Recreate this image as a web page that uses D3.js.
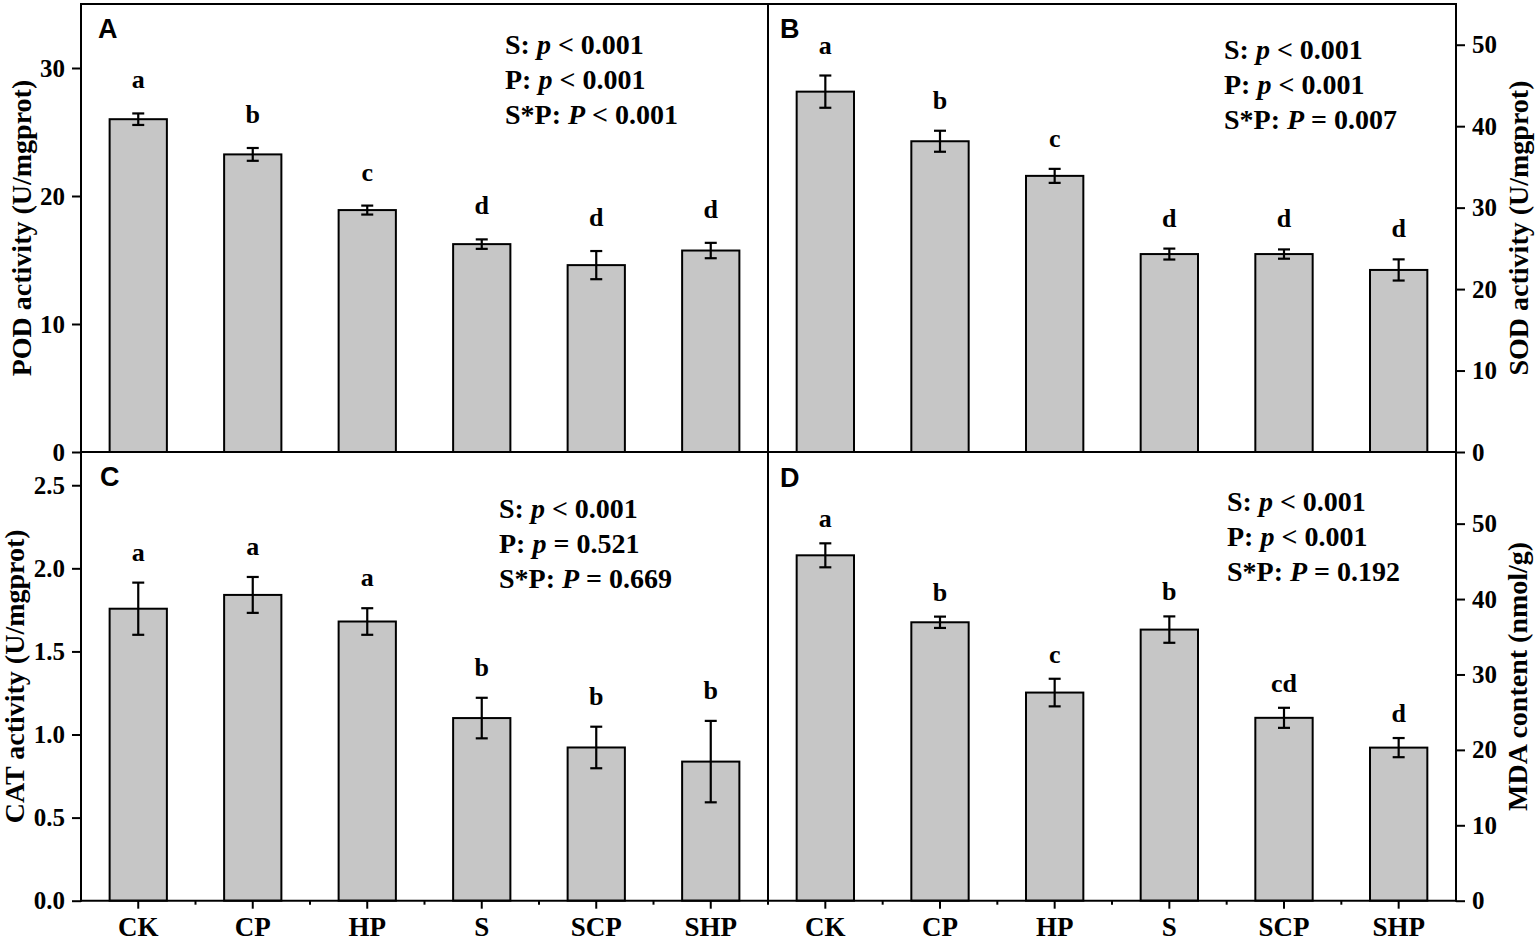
<!DOCTYPE html>
<html>
<head>
<meta charset="utf-8">
<script src="https://cdn.jsdelivr.net/npm/d3@7"></script>
<style>
  html, body { margin: 0; padding: 0; background: #fff; }
  svg { display: block; }
  text { font-family: "Liberation Serif", "Times New Roman", serif; font-weight: bold; fill: #000; }
  .panel-letter { font-family: "Liberation Sans", Arial, sans-serif; }
</style>
</head>
<body>
<svg id="chart" width="1535" height="941"></svg>
<script>
// ------------------------------------------
// Data
// ------------------------------------------

const categories = ["CK", "CP", "HP", "S", "SCP", "SHP"]

const podMean = [26.0, 23.25, 18.9, 16.24, 14.6, 15.74]
const podErr = [0.45, 0.5, 0.35, 0.37, 1.1, 0.6]
const podLetters = ["a", "b", "c", "d", "d", "d"]
const podTicks = [0, 10, 20, 30]
const podStats = [["S:", "p", "< 0.001"], ["P:", "p", "< 0.001"], ["S*P:", "P", "< 0.001"]]

const sodMean = [44.24, 38.15, 33.9, 24.3, 24.3, 22.35]
const sodErr = [1.98, 1.29, 0.86, 0.67, 0.57, 1.3]
const sodLetters = ["a", "b", "c", "d", "d", "d"]
const sodTicks = [0, 10, 20, 30, 40, 50]
const sodStats = [["S:", "p", "< 0.001"], ["P:", "p", "< 0.001"], ["S*P:", "P", "= 0.007"]]

const catMean = [1.757, 1.84, 1.68, 1.099, 0.922, 0.837]
const catErr = [0.157, 0.108, 0.08, 0.122, 0.125, 0.245]
const catLetters = ["a", "a", "a", "b", "b", "b"]
const catTicks = [0.0, 0.5, 1.0, 1.5, 2.0, 2.5]
const catStats = [["S:", "p", "< 0.001"], ["P:", "p", "= 0.521"], ["S*P:", "P", "= 0.669"]]

const mdaMean = [45.8, 36.92, 27.6, 35.95, 24.25, 20.3]
const mdaErr = [1.59, 0.75, 1.83, 1.75, 1.33, 1.27]
const mdaLetters = ["a", "b", "c", "b", "cd", "d"]
const mdaTicks = [0, 10, 20, 30, 40, 50]
const mdaStats = [["S:", "p", "< 0.001"], ["P:", "p", "< 0.001"], ["S*P:", "P", "= 0.192"]]

// ------------------------------------------
// Layout
// ------------------------------------------

const frame = { left: 81, mid: 768, right: 1456, top: 4, middle: 452, bottom: 900.7 }

const panels = [
  { id: "A", mean: podMean, err: podErr, letters: podLetters, ticks: podTicks, stats: podStats,
    max: 35, side: "left", row: 0, label: "POD activity (U/mgprot)", labelX: 31, fmt: d3.format("d"),
    letterPos: [98, 38], statsPos: [505, 54], sigGap: 25 },
  { id: "B", mean: sodMean, err: sodErr, letters: sodLetters, ticks: sodTicks, stats: sodStats,
    max: 55, side: "right", row: 0, label: "SOD activity (U/mgprot)", labelX: 1528, fmt: d3.format("d"),
    letterPos: [780, 38], statsPos: [1224, 59], sigGap: 22 },
  { id: "C", mean: catMean, err: catErr, letters: catLetters, ticks: catTicks, stats: catStats,
    max: 2.7, side: "left", row: 1, label: "CAT activity (U/mgprot)", labelX: 24, fmt: d3.format(".1f"),
    letterPos: [100, 486], statsPos: [499, 518], sigGap: 22 },
  { id: "D", mean: mdaMean, err: mdaErr, letters: mdaLetters, ticks: mdaTicks, stats: mdaStats,
    max: 59.5, side: "right", row: 1, label: "MDA content (nmol/g)", labelX: 1527, fmt: d3.format("d"),
    letterPos: [780, 487], statsPos: [1227, 511], sigGap: 16 }
]

const svg = d3.select("#chart")

panels.forEach(p => drawPanel(p))
drawFrame()

function drawPanel(p) {
  let xRange = p.side === "left" ? [frame.left, frame.mid] : [frame.mid, frame.right]
  let yRange = p.row === 0 ? [frame.middle, frame.top] : [frame.bottom, frame.middle]

  let x = d3.scaleBand().domain(categories).range(xRange).paddingInner(0.5).paddingOuter(0.25)
  let y = d3.scaleLinear().domain([0, p.max]).range(yRange)
  let cx = d => x(d) + x.bandwidth() / 2

  let g = svg.append("g").attr("class", "panel-" + p.id)

  // bars
  g.selectAll("rect.bar")
    .data(categories)
    .join("rect")
      .attr("class", "bar")
      .attr("x", d => x(d))
      .attr("width", x.bandwidth())
      .attr("y", (d, i) => y(p.mean[i]))
      .attr("height", (d, i) => y(0) - y(p.mean[i]))
      .attr("fill", "#c6c6c6")
      .attr("stroke", "#000")
      .attr("stroke-width", 2)

  // error bars
  let capHalf = 6
  let err = g.selectAll("g.err")
    .data(categories)
    .join("g")
      .attr("class", "err")
      .attr("stroke", "#000")
      .attr("stroke-width", 2.2)
  err.append("line")
    .attr("x1", cx)
    .attr("x2", cx)
    .attr("y1", (d, i) => y(p.mean[i] - p.err[i]))
    .attr("y2", (d, i) => y(p.mean[i] + p.err[i]))
  err.append("line")
    .attr("x1", d => cx(d) - capHalf)
    .attr("x2", d => cx(d) + capHalf)
    .attr("y1", (d, i) => y(p.mean[i] + p.err[i]))
    .attr("y2", (d, i) => y(p.mean[i] + p.err[i]))
  err.append("line")
    .attr("x1", d => cx(d) - capHalf)
    .attr("x2", d => cx(d) + capHalf)
    .attr("y1", (d, i) => y(p.mean[i] - p.err[i]))
    .attr("y2", (d, i) => y(p.mean[i] - p.err[i]))

  // significance letters
  g.selectAll("text.sig")
    .data(categories)
    .join("text")
      .attr("class", "sig")
      .attr("x", cx)
      .attr("y", (d, i) => y(p.mean[i] + p.err[i]) - p.sigGap)
      .attr("text-anchor", "middle")
      .style("font-size", "26px")
      .text((d, i) => p.letters[i])

  // y axis
  let axis = (p.side === "left" ? d3.axisLeft(y) : d3.axisRight(y))
    .tickValues(p.ticks)
    .tickFormat(p.fmt)
    .tickSize(9)
    .tickSizeOuter(0)
    .tickPadding(7)
  let axisG = g.append("g")
    .attr("transform", `translate(${p.side === "left" ? frame.left : frame.right},0)`)
    .call(axis)
  axisG.select(".domain").remove()
  axisG.selectAll(".tick line").attr("stroke", "#000").attr("stroke-width", 2)
  axisG.selectAll(".tick text")
    .attr("fill", "#000")
    .style("font-family", '"Liberation Serif", "Times New Roman", serif')
    .style("font-weight", "bold")
    .style("font-size", "25px")

  // y label
  g.append("text")
    .attr("transform", `translate(${p.labelX},${(yRange[0] + yRange[1]) / 2}) rotate(-90)`)
    .attr("text-anchor", "middle")
    .style("font-size", "28px")
    .text(p.label)

  // x axis on the bottom row
  if (p.row === 1) {
    let xAxis = d3.axisBottom(x).tickSize(8).tickSizeOuter(0).tickPadding(8)
    let xG = g.append("g")
      .attr("transform", `translate(0,${frame.bottom})`)
      .call(xAxis)
    xG.select(".domain").remove()
    xG.selectAll(".tick line").attr("stroke", "#000").attr("stroke-width", 2)
    xG.selectAll(".tick text")
      .attr("fill", "#000")
      .style("font-family", '"Liberation Serif", "Times New Roman", serif')
      .style("font-weight", "bold")
      .style("font-size", "27px")

    // minor ticks on the band boundaries
    let boundaries = categories.slice(1).map(c => x(c) - x.step() * x.paddingInner() / 2)
    if (p.side === "left") {
      boundaries.push(frame.mid)
    }
    g.selectAll("line.minor")
      .data(boundaries)
      .join("line")
        .attr("class", "minor")
        .attr("x1", d => d)
        .attr("x2", d => d)
        .attr("y1", frame.bottom)
        .attr("y2", frame.bottom + 4)
        .attr("stroke", "#000")
        .attr("stroke-width", 2)
  }

  // panel letter
  g.append("text")
    .attr("class", "panel-letter")
    .attr("x", p.letterPos[0])
    .attr("y", p.letterPos[1])
    .style("font-size", "27px")
    .text(p.id)

  // statistics
  let stats = g.append("text")
    .attr("x", p.statsPos[0])
    .attr("y", p.statsPos[1])
    .style("font-size", "28px")
  p.stats.forEach((line, i) => {
    stats.append("tspan")
      .attr("x", p.statsPos[0])
      .attr("dy", i === 0 ? 0 : 35.2)
      .text(line[0] + " ")
    stats.append("tspan")
      .style("font-style", "italic")
      .text(line[1])
    stats.append("tspan")
      .text(" " + line[2])
  })
}

function drawFrame() {
  let lines = [
    [frame.left, frame.top, frame.right, frame.top],
    [frame.left, frame.middle, frame.right, frame.middle],
    [frame.left, frame.bottom, frame.right, frame.bottom],
    [frame.left, frame.top, frame.left, frame.bottom],
    [frame.mid, frame.top, frame.mid, frame.bottom],
    [frame.right, frame.top, frame.right, frame.bottom]
  ]
  svg.append("g")
    .selectAll("line")
    .data(lines)
    .join("line")
      .attr("x1", d => d[0])
      .attr("y1", d => d[1])
      .attr("x2", d => d[2])
      .attr("y2", d => d[3])
      .attr("stroke", "#000")
      .attr("stroke-width", 2)
      .attr("stroke-linecap", "square")
}
</script>
</body>
</html>
